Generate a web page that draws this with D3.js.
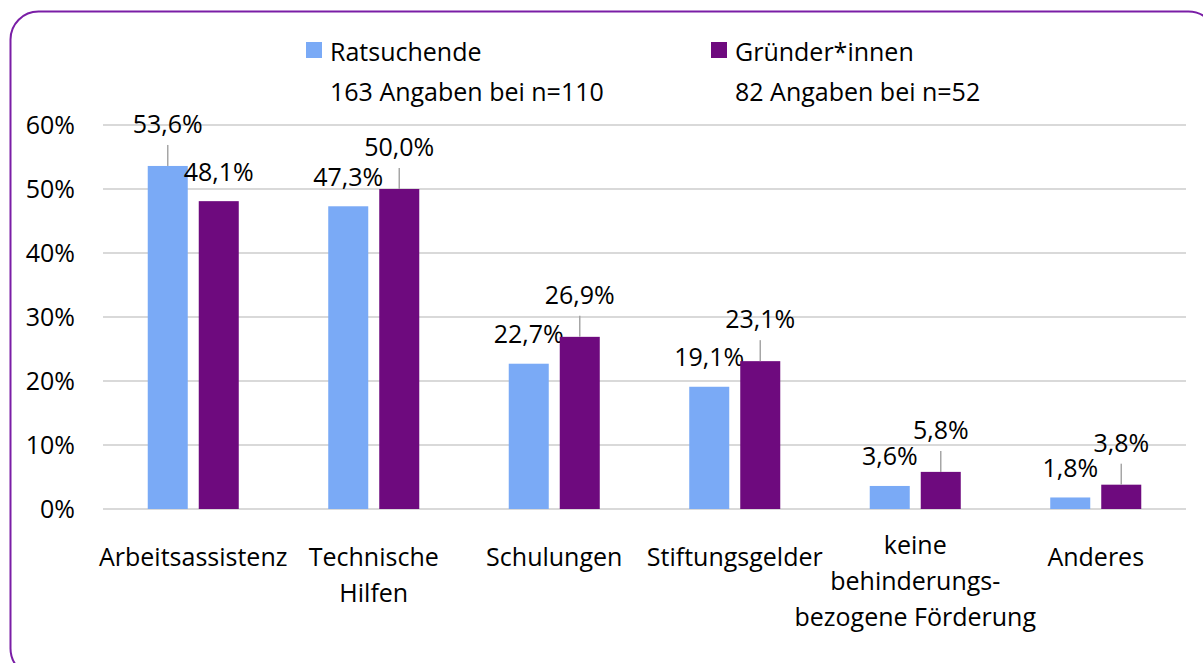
<!DOCTYPE html>
<html>
<head>
<meta charset="utf-8">
<script src="https://cdn.jsdelivr.net/npm/d3@7"></script>
<style>
  body { margin: 0; background: #fff; }
  svg { display: block; font-family: "Open Sans", sans-serif; }
  text { fill: #000; font-size: 25px; }
</style>
</head>
<body>
<svg id="chart" width="1203" height="663"></svg>
<script>
// categories (line breaks as in the original axis labels)
let categories = [
  ["Arbeitsassistenz"],
  ["Technische", "Hilfen"],
  ["Schulungen"],
  ["Stiftungsgelder"],
  ["keine", "behinderungs-", "bezogene Förderung"],
  ["Anderes"]
];
let seriesNames = ["Ratsuchende", "Gründer*innen"];
let seriesNotes = ["163 Angaben bei n=110", "82 Angaben bei n=52"];
let ratsuchende = [53.6, 47.3, 22.7, 19.1, 3.6, 1.8];
let gruender = [48.1, 50.0, 26.9, 23.1, 5.8, 3.8];
let yTicks = [0, 10, 20, 30, 40, 50, 60];

let colors = ["#7aaaf6", "#6e0a7e"];
let catKeys = categories.map(d => d.join(" "));
let series = [ratsuchende, gruender];

let svg = d3.select("#chart");

// rounded frame
svg.append("rect")
    .attr("x", 10.5).attr("y", 11.5)
    .attr("width", 1206).attr("height", 665)
    .attr("rx", 28)
    .attr("fill", "none")
    .attr("stroke", "#7a1ea6")
    .attr("stroke-width", 2);

let x0 = d3.scaleBand().domain(catKeys).range([103, 1186]).padding(0);
let x1 = d3.scaleBand().domain([0, 1]).range([0, x0.bandwidth()])
    .paddingInner(0.2157).paddingOuter(0.877);
let y = d3.scaleLinear().domain([0, 60]).range([509, 125]);

// grid + y labels
let grid = svg.append("g");
grid.selectAll("line").data(yTicks).enter().append("line")
    .attr("x1", 103).attr("x2", 1186)
    .attr("y1", d => y(d)).attr("y2", d => y(d))
    .attr("stroke", "#d9d9d9").attr("stroke-width", 2);
grid.selectAll("text").data(yTicks).enter().append("text")
    .attr("x", 75).attr("y", d => y(d)).attr("dy", "0.36em")
    .attr("text-anchor", "end")
    .text(d => d + "%");

let fmt = v => v.toFixed(1).replace(".", ",") + "%";

// labels that were dragged up in the original (they get a leader line)
let lifted = (s, i) => (s === 0 && i === 0) || (s === 1 && i > 0);

series.forEach(function(vals, s) {
  let g = svg.append("g");
  g.selectAll("rect").data(vals).enter().append("rect")
      .attr("x", (d, i) => x0(catKeys[i]) + x1(s))
      .attr("y", d => y(d))
      .attr("width", x1.bandwidth())
      .attr("height", d => y(0) - y(d))
      .attr("fill", colors[s]);

  vals.forEach(function(v, i) {
    let cx = x0(catKeys[i]) + x1(s) + x1.bandwidth() / 2;
    let off = lifted(s, i) ? 33 : 20.5;
    if (lifted(s, i)) {
      g.append("line")
          .attr("x1", cx).attr("x2", cx)
          .attr("y1", y(v) - off + 12).attr("y2", y(v))
          .attr("stroke", "#a6a6a6").attr("stroke-width", 1.5);
    }
    g.append("text")
        .attr("x", cx).attr("y", y(v) - off)
        .attr("text-anchor", "middle")
        .text(fmt(v));
  });
});

// category labels
let cats = svg.append("g");
categories.forEach(function(lines, i) {
  let cx = x0(catKeys[i]) + x0.bandwidth() / 2;
  let top = 566 - (lines.length >= 3 ? 12 : 0);
  let t = cats.append("text").attr("text-anchor", "middle");
  lines.forEach(function(l, k) {
    t.append("tspan").attr("x", cx).attr("y", top + k * 36).text(l);
  });
});

// legend
let legX = [306, 711];
seriesNames.forEach(function(name, s) {
  let lg = svg.append("g");
  lg.append("rect")
      .attr("x", legX[s]).attr("y", 42)
      .attr("width", 16).attr("height", 16)
      .attr("fill", colors[s]);
  lg.append("text").attr("x", legX[s] + 24).attr("y", 61).text(name);
  lg.append("text").attr("x", legX[s] + 24).attr("y", 101).text(seriesNotes[s]);
});
</script>
</body>
</html>
